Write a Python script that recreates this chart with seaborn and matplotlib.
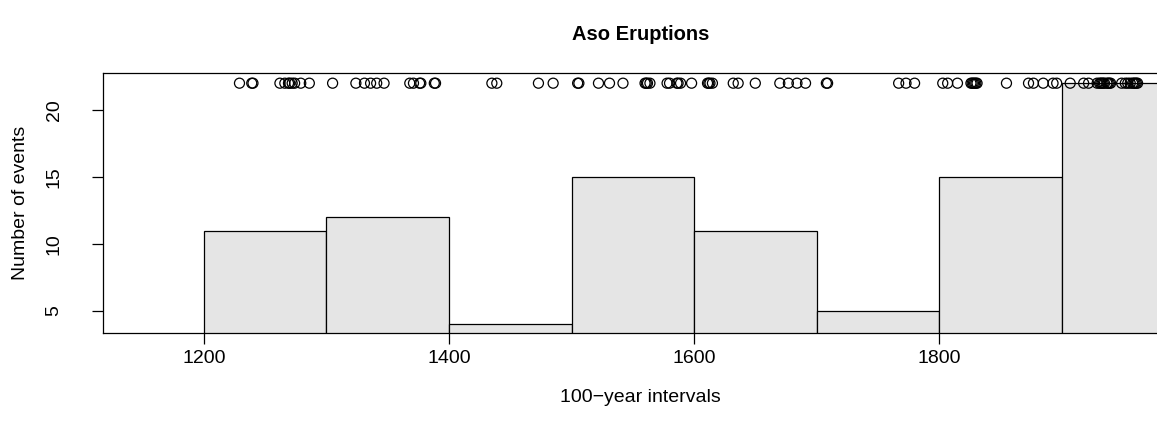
import numpy as np
import matplotlib
matplotlib.use("Agg")
import matplotlib.pyplot as plt
import seaborn as sns

# ---- data (eruption years, read from the rug of points) ----
years_1200s = [1229, 1239, 1240, 1262, 1266, 1269, 1270, 1272, 1274, 1279, 1286]
years_1300s = [1305, 1324, 1331, 1336, 1341, 1347, 1368, 1371, 1376, 1377, 1388, 1389]
years_1400s = [1435, 1439, 1473, 1485]
years_1500s = [1505, 1506, 1522, 1531, 1542, 1560, 1561, 1562, 1564, 1578, 1580,
               1586, 1587, 1589, 1598]
years_1600s = [1611, 1612, 1613, 1615, 1632, 1636, 1650, 1670, 1677, 1684, 1691]
years_1700s = [1708, 1709, 1767, 1773, 1780]
years_1800s = [1803, 1807, 1815, 1826, 1827, 1828, 1829, 1830, 1831, 1855, 1873,
               1877, 1885, 1893, 1896]
years_1900s = [1907, 1918, 1922, 1929, 1931, 1932, 1933, 1934, 1935, 1937, 1938,
               1939, 1940, 1949, 1952, 1954, 1956, 1958, 1959, 1960, 1961, 1962]
bin_edges = [1200, 1300, 1400, 1500, 1600, 1700, 1800, 1900, 2000]
x_ticks = [1200, 1400, 1600, 1800]
y_ticks = [5, 10, 15, 20]
title = "Aso Eruptions"
x_label = "100\u2212year intervals"
y_label = "Number of events"

years = np.array(years_1200s + years_1300s + years_1400s + years_1500s +
                 years_1600s + years_1700s + years_1800s + years_1900s)
counts, _ = np.histogram(years, bins=bin_edges)
rug_level = counts.max()

sns.set_style("ticks")
plt.rcParams["font.family"] = ["Liberation Sans", "DejaVu Sans"]
plt.rcParams["axes.linewidth"] = 0.9
plt.rcParams["text.color"] = "black"
plt.rcParams["axes.labelcolor"] = "black"
plt.rcParams["xtick.color"] = "black"
plt.rcParams["ytick.color"] = "black"

W, H = 1157, 430
left_px, right_px, top_px, bottom_px = 103, 1178, 73, 333
fig = plt.figure(figsize=(W / 100, H / 100), dpi=100)
ax = fig.add_axes([left_px / W, (H - bottom_px) / H,
                   (right_px - left_px) / W, (bottom_px - top_px) / H])

sns.histplot(x=years, bins=bin_edges, color="#E5E5E5", edgecolor="black",
             linewidth=0.9, alpha=1, ax=ax)
sns.scatterplot(x=years, y=np.full(len(years), rug_level), marker="o",
                facecolors="none", edgecolors="black", s=52, linewidth=0.9,
                ax=ax, zorder=3, legend=False)

ax.set_xlim(1117.6, 1995)
ax.set_ylim(3.36, 22.76)
ax.set_xticks(x_ticks)
ax.set_xticklabels([str(t) for t in x_ticks])
ax.set_yticks(y_ticks)
ax.set_yticklabels([str(t) for t in y_ticks], rotation=90, va="center")
ax.tick_params(axis="both", direction="out", length=8, width=0.9,
               labelsize=14, colors="black")
ax.tick_params(axis="x", pad=4.5)
ax.tick_params(axis="y", pad=21)
for s in ["left", "top", "bottom", "right"]:
    ax.spines[s].set_visible(True)
    ax.spines[s].set_color("black")

ax.set_xlabel(x_label, fontsize=14, color="black")
ax.xaxis.set_label_coords(0.5, -(389 - bottom_px) / (bottom_px - top_px))
ax.set_ylabel(y_label, fontsize=14, color="black")
ax.yaxis.set_label_coords(-(left_px - 29) / (right_px - left_px), 0.5)
ax.set_title(title, fontsize=14.5, fontweight="bold", pad=24, color="black")

fig.savefig("out.png", dpi=100)
